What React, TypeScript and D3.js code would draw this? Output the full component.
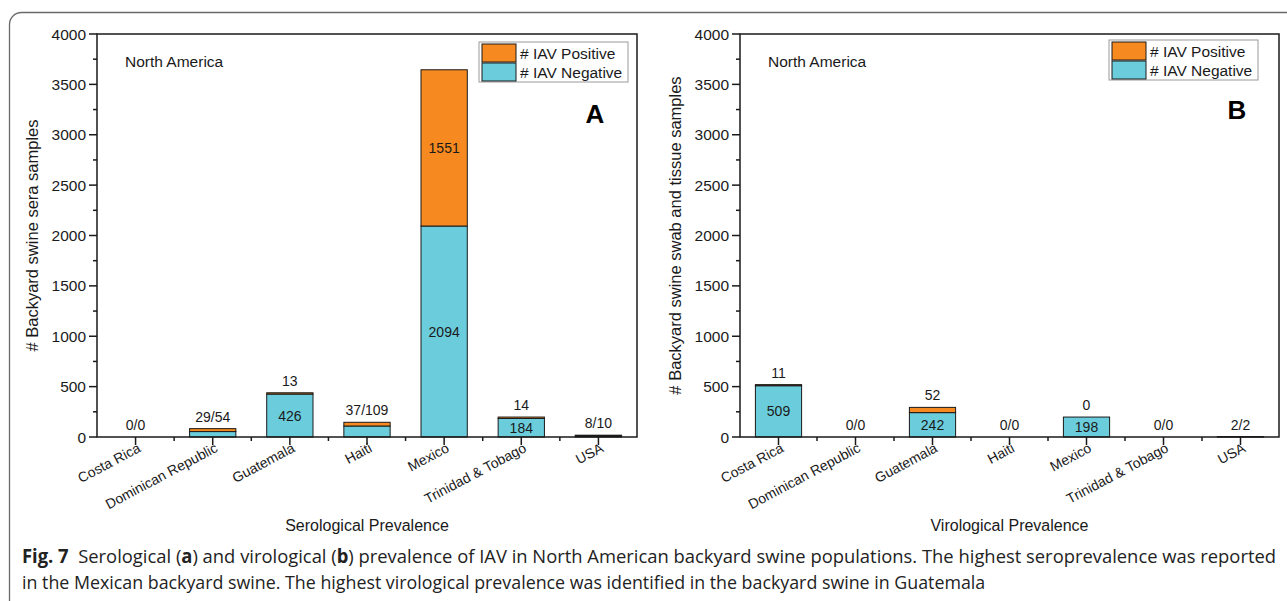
import React from "react";
import * as d3 from "d3";

const categories = ["Costa Rica", "Dominican Republic", "Guatemala", "Haiti", "Mexico", "Trinidad & Tobago", "USA"];
const seroNegative = [0, 54, 426, 109, 2094, 184, 10];
const seroPositive = [0, 29, 13, 37, 1551, 14, 8];
const viroNegative = [509, 0, 242, 0, 198, 0, 2];
const viroPositive = [11, 0, 52, 0, 0, 0, 2];
const yTicks = [0, 500, 1000, 1500, 2000, 2500, 3000, 3500, 4000];
const yMinorTicks = [250, 750, 1250, 1750, 2250, 2750, 3250, 3750];
const legendLabels = ["# IAV Positive", "# IAV Negative"];

const ORANGE = "#F6891F";
const CYAN = "#6BCDDC";
const FONT = "'Liberation Sans', Arial, Helvetica, sans-serif";
const INK = "#1a1a1a";

type PanelProps = {
  x0: number; x1: number; yTop: number; y0: number;
  neg: number[]; pos: number[];
  yTitle: string; xTitle: string; letter: string;
  legendX: number; legendY: number; letterX: number; letterY: number;
  yTitleX: number;
};

function Panel(p: PanelProps) {
  const x = d3.scaleBand<string>().domain(categories).range([p.x0, p.x1]).paddingInner(0.4).paddingOuter(0.2);
  const y = d3.scaleLinear().domain([0, 4000]).range([p.y0, p.yTop]);
  const step = x.step();
  const bw = x.bandwidth();
  const boundaries = d3.range(1, categories.length).map((i) => p.x0 + i * step);
  const cy = (p.y0 + p.yTop) / 2;
  const VL = 14;
  return (
    <g fontFamily={FONT}>
      {/* bars */}
      {categories.map((c, i) => {
        const bx = x(c)!;
        const cx = bx + bw / 2;
        const n = p.neg[i];
        const q = p.pos[i];
        const negTop = y(n);
        const posTop = y(n + q);
        const negH = p.y0 - negTop;
        const posH = negTop - posTop;
        const items: any[] = [];
        if (n > 0) items.push(<rect key="n" x={bx} y={negTop} width={bw} height={negH} fill={CYAN} stroke={INK} strokeWidth={1} />);
        if (q > 0) items.push(<rect key="p" x={bx} y={posTop} width={bw} height={posH} fill={ORANGE} stroke={INK} strokeWidth={1} />);
        if (negH >= 15) {
          items.push(<text key="nl" x={cx} y={(negTop + p.y0) / 2 + 5} textAnchor="middle" fontSize={VL} fill={INK}>{n}</text>);
          if (posH >= 15) {
            items.push(<text key="pl" x={cx} y={(posTop + negTop) / 2 + 5} textAnchor="middle" fontSize={VL} fill={INK}>{q}</text>);
          } else {
            items.push(<text key="pl" x={cx} y={posTop - 7} textAnchor="middle" fontSize={VL} fill={INK}>{q}</text>);
          }
        } else {
          items.push(<text key="rl" x={cx} y={posTop - 7} textAnchor="middle" fontSize={VL} fill={INK}>{`${q}/${n}`}</text>);
        }
        return <g key={c}>{items}</g>;
      })}
      {/* frame */}
      <rect x={p.x0} y={p.yTop} width={p.x1 - p.x0} height={p.y0 - p.yTop} fill="none" stroke={INK} strokeWidth={1.5} />
      {/* y ticks */}
      {yTicks.map((t) => (
        <g key={t}>
          <line x1={p.x0 - 8} x2={p.x0} y1={y(t)} y2={y(t)} stroke={INK} strokeWidth={1.5} />
          <text x={p.x0 - 11} y={y(t) + 5.5} textAnchor="end" fontSize={15.5} fill={INK}>{t}</text>
        </g>
      ))}
      {yMinorTicks.map((t) => (
        <line key={t} x1={p.x0 - 4} x2={p.x0} y1={y(t)} y2={y(t)} stroke={INK} strokeWidth={1.5} />
      ))}
      {/* x ticks */}
      {categories.map((c) => {
        const cx = x(c)! + bw / 2;
        return (
          <g key={c}>
            <line x1={cx} x2={cx} y1={p.y0} y2={p.y0 + 8} stroke={INK} strokeWidth={1.5} />
            <text transform={`translate(${cx + 6},${p.y0 + 14}) rotate(-28)`} textAnchor="end" fontSize={14} fill={INK}>{c}</text>
          </g>
        );
      })}
      {boundaries.map((b) => (
        <line key={b} x1={b} x2={b} y1={p.y0} y2={p.y0 + 4} stroke={INK} strokeWidth={1.5} />
      ))}
      {/* titles */}
      <text x={(p.x0 + p.x1) / 2} y={p.y0 + 94} textAnchor="middle" fontSize={16} fill={INK}>{p.xTitle}</text>
      <text transform={`translate(${p.yTitleX},${cy}) rotate(-90)`} textAnchor="middle" fontSize={16.5} fill={INK}>{p.yTitle}</text>
      <text x={p.x0 + 28} y={p.yTop + 33} fontSize={15.5} fill={INK}>North America</text>
      <text x={p.letterX} y={p.letterY} textAnchor="middle" fontSize={26} fontWeight="bold" fill="#000">{p.letter}</text>
      {/* legend */}
      <g>
        <rect x={p.legendX} y={p.legendY} width={149} height={40} fill="#fff" stroke="#9a9a9a" strokeWidth={1} />
        {legendLabels.map((l, i) => (
          <g key={l}>
            <rect x={p.legendX + 3} y={p.legendY + 2 + i * 19} width={34} height={18} fill={i === 0 ? ORANGE : CYAN} stroke={INK} strokeWidth={1} />
            <text x={p.legendX + 41} y={p.legendY + 16.5 + i * 19} fontSize={15.5} fill={INK}>{l}</text>
          </g>
        ))}
      </g>
    </g>
  );
}

export default function App() {
  return (
    <svg width={1287} height={601} style={{ position: "absolute", left: 0, top: 0, background: "#fff" }}>
      <rect x={0} y={0} width={1287} height={601} fill="#fff" />
      <rect x={9.5} y={12.5} width={1300} height={620} rx={12} fill="none" stroke="#6a6a6a" strokeWidth={1.3} />
      <Panel x0={97} x1={637} yTop={34} y0={437} neg={seroNegative} pos={seroPositive}
        yTitle="# Backyard swine sera samples" xTitle="Serological Prevalence" letter="A"
        legendX={479} legendY={42} letterX={595} letterY={123} yTitleX={38} />
      <Panel x0={740} x1={1279} yTop={34} y0={437} neg={viroNegative} pos={viroPositive}
        yTitle="# Backyard swine swab and tissue samples" xTitle="Virological Prevalence" letter="B"
        legendX={1109} legendY={40} letterX={1237} letterY={119} yTitleX={681} />
      <g fontFamily="'Open Sans', 'Noto Sans', sans-serif" fontSize={19} fill="#222">
        <text transform="translate(22,563) scale(0.968,1)">
          <tspan fontWeight="bold">Fig. 7</tspan>
          <tspan>{"\u00a0\u00a0Serological ("}</tspan>
          <tspan fontWeight="bold">a</tspan>
          <tspan>{") and virological ("}</tspan>
          <tspan fontWeight="bold">b</tspan>
          <tspan>{") prevalence of IAV in North American backyard swine populations. The highest seroprevalence was reported"}</tspan>
        </text>
        <text transform="translate(22,589) scale(0.938,1)">
          in the Mexican backyard swine. The highest virological prevalence was identified in the backyard swine in Guatemala
        </text>
      </g>
    </svg>
  );
}
